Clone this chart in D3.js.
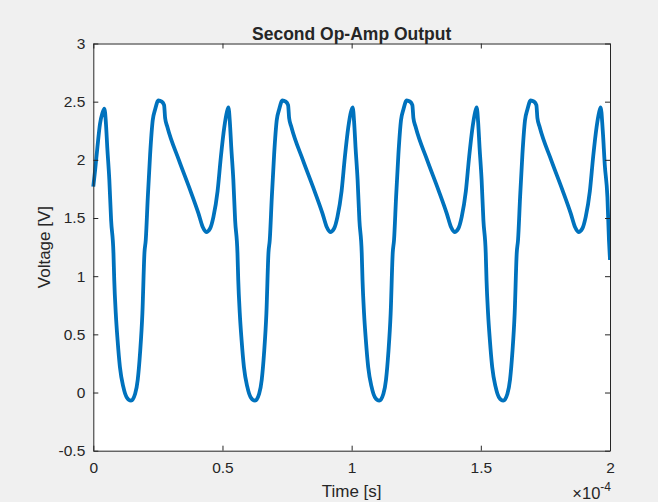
<!DOCTYPE html>
<html>
<head>
<meta charset="utf-8">
<script src="https://cdn.jsdelivr.net/npm/d3@7"></script>
<style>
  body { margin: 0; background: #f0f0f0; }
  text { font-family: "Liberation Sans", Arial, Helvetica, sans-serif; fill: #262626; }
</style>
</head>
<body>
<div id="chart"></div>
<script>
// time values in units of 1e-4 s
var timeVals = [
  0.000, 0.007, 0.016, 0.026, 0.035,
  0.043, 0.049, 0.054, 0.062, 0.069, 0.078, 0.081, 0.087, 0.094, 0.103, 0.116, 0.129, 0.146, 0.162, 0.172, 0.181, 0.190, 0.198, 0.203, 0.211, 0.220, 0.230, 0.239, 0.252, 0.265, 0.274, 0.278, 0.287, 0.331, 0.375, 0.407, 0.424, 0.437, 0.452, 0.465, 0.481, 0.494, 0.507, 0.517,
  0.523, 0.529, 0.534, 0.542, 0.549, 0.558, 0.561, 0.567, 0.574, 0.583, 0.596, 0.609, 0.626, 0.642, 0.652, 0.661, 0.670, 0.678, 0.683, 0.691, 0.700, 0.710, 0.719, 0.732, 0.745, 0.754, 0.758, 0.767, 0.811, 0.855, 0.887, 0.904, 0.917, 0.932, 0.945, 0.961, 0.974, 0.987, 0.997,
  1.004, 1.010, 1.015, 1.023, 1.030, 1.039, 1.042, 1.048, 1.055, 1.064, 1.077, 1.090, 1.107, 1.123, 1.133, 1.142, 1.151, 1.159, 1.164, 1.172, 1.181, 1.191, 1.200, 1.213, 1.226, 1.235, 1.239, 1.248, 1.292, 1.336, 1.368, 1.385, 1.398, 1.413, 1.426, 1.442, 1.455, 1.468, 1.478,
  1.484, 1.490, 1.495, 1.503, 1.510, 1.519, 1.522, 1.528, 1.535, 1.544, 1.557, 1.570, 1.587, 1.603, 1.613, 1.622, 1.631, 1.639, 1.644, 1.652, 1.661, 1.671, 1.680, 1.693, 1.706, 1.715, 1.719, 1.728, 1.772, 1.816, 1.848, 1.865, 1.878, 1.893, 1.906, 1.922, 1.935, 1.948, 1.958,
  1.964, 1.972, 1.980, 1.990, 1.996, 2.000
];
var voltVals = [
  1.77, 1.91, 2.11, 2.31, 2.40,
  2.44, 2.31, 2.11, 1.83, 1.48, 1.20, 0.97, 0.68, 0.45, 0.22, 0.05, -0.04, -0.07, -0.01, 0.11, 0.34, 0.68, 1.20, 1.31, 1.68, 2.05, 2.34, 2.43, 2.51, 2.50, 2.47, 2.36, 2.28, 2.00, 1.74, 1.54, 1.42, 1.38, 1.41, 1.51, 1.73, 2.03, 2.28, 2.41,
  2.45, 2.31, 2.11, 1.83, 1.48, 1.20, 0.97, 0.68, 0.45, 0.22, 0.05, -0.04, -0.07, -0.01, 0.11, 0.34, 0.68, 1.20, 1.31, 1.68, 2.05, 2.34, 2.43, 2.51, 2.50, 2.47, 2.36, 2.28, 2.00, 1.74, 1.54, 1.42, 1.38, 1.41, 1.51, 1.73, 2.03, 2.28, 2.41,
  2.45, 2.31, 2.11, 1.83, 1.48, 1.20, 0.97, 0.68, 0.45, 0.22, 0.05, -0.04, -0.07, -0.01, 0.11, 0.34, 0.68, 1.20, 1.31, 1.68, 2.05, 2.34, 2.43, 2.51, 2.50, 2.47, 2.36, 2.28, 2.00, 1.74, 1.54, 1.42, 1.38, 1.41, 1.51, 1.73, 2.03, 2.28, 2.41,
  2.45, 2.31, 2.11, 1.83, 1.48, 1.20, 0.97, 0.68, 0.45, 0.22, 0.05, -0.04, -0.07, -0.01, 0.11, 0.34, 0.68, 1.20, 1.31, 1.68, 2.05, 2.34, 2.43, 2.51, 2.50, 2.47, 2.36, 2.28, 2.00, 1.74, 1.54, 1.42, 1.38, 1.41, 1.51, 1.73, 2.03, 2.28, 2.41,
  2.45, 2.25, 1.95, 1.68, 1.31, 1.14
];
var xTicks = [0, 0.5, 1, 1.5, 2];
var xTickLabels = ["0", "0.5", "1", "1.5", "2"];
var yTicks = [-0.5, 0, 0.5, 1, 1.5, 2, 2.5, 3];
var yTickLabels = ["-0.5", "0", "0.5", "1", "1.5", "2", "2.5", "3"];

var data = timeVals.map(function(t, i) { return { t: t, v: voltVals[i] }; });

var totalW = 658, totalH = 502;
var margin = {top: 43.5, right: 48, bottom: 51.3, left: 93.3},
    width = totalW - margin.left - margin.right,
    height = totalH - margin.top - margin.bottom;

var svg = d3.select("#chart")
  .append("svg")
  .attr("width", totalW)
  .attr("height", totalH)
  .append("g")
  .attr("transform", "translate(" + margin.left + "," + margin.top + ")");

var x = d3.scaleLinear().domain([0, 2]).range([0, width]);
var y = d3.scaleLinear().domain([-0.5, 3]).range([height, 0]);

// white plot area
svg.append("rect")
  .attr("width", width)
  .attr("height", height)
  .attr("fill", "#ffffff");

svg.append("clipPath").attr("id", "clip")
  .append("rect").attr("x", -3).attr("y", -3).attr("width", width + 3).attr("height", height + 6);

// the line
svg.append("path")
  .datum(data)
  .attr("clip-path", "url(#clip)")
  .attr("fill", "none")
  .attr("stroke", "#0072bd")
  .attr("stroke-width", 3.8)
  .attr("stroke-linejoin", "round")
  .attr("d", d3.line()
    .curve(d3.curveMonotoneX)
    .x(function(d) { return x(d.t); })
    .y(function(d) { return y(d.v); })
  );

var axisColor = "#262626";

// bottom axis
var xAxis = svg.append("g")
  .attr("transform", "translate(0," + height + ")")
  .call(d3.axisBottom(x).tickValues(xTicks).tickSizeInner(-5).tickSizeOuter(0)
    .tickFormat(function(d, i) { return xTickLabels[i]; }));
xAxis.selectAll("text").attr("dy", null).attr("y", 22).style("font-size", "15.5px");

// top axis (ticks only)
svg.append("g")
  .call(d3.axisTop(x).tickValues(xTicks).tickSizeInner(-5).tickSizeOuter(0).tickFormat(""));

// left axis
var yAxis = svg.append("g")
  .call(d3.axisLeft(y).tickValues(yTicks).tickSizeInner(-5).tickSizeOuter(0)
    .tickFormat(function(d, i) { return yTickLabels[i]; }));
yAxis.selectAll("text").attr("x", -8).style("font-size", "15.5px");

// right axis (ticks only)
svg.append("g")
  .attr("transform", "translate(" + width + ",0)")
  .call(d3.axisRight(y).tickValues(yTicks).tickSizeInner(-5).tickSizeOuter(0).tickFormat(""));

svg.selectAll(".domain").attr("stroke", axisColor);
svg.selectAll(".tick line").attr("stroke", axisColor);
svg.selectAll(".tick text").attr("fill", axisColor).style("font-family", "'Liberation Sans', Arial, sans-serif");

// title
svg.append("text")
  .attr("x", width / 2)
  .attr("y", -4)
  .attr("text-anchor", "middle")
  .style("font-size", "17.5px")
  .style("font-weight", "bold")
  .text("Second Op-Amp Output");

// x label
svg.append("text")
  .attr("x", width / 2)
  .attr("y", height + 46)
  .attr("text-anchor", "middle")
  .style("font-size", "17px")
  .text("Time [s]");

// exponent label
var expo = svg.append("text")
  .attr("x", width + 1)
  .attr("y", height + 48)
  .attr("text-anchor", "end")
  .style("font-size", "16.5px");
expo.append("tspan").text("\u00d710");
expo.append("tspan").attr("dy", -8).style("font-size", "12px").text("-4");

// y label
svg.append("text")
  .attr("transform", "translate(" + (-43) + "," + (height / 2) + ") rotate(-90)")
  .attr("text-anchor", "middle")
  .style("font-size", "17px")
  .text("Voltage [V]");
</script>
</body>
</html>
